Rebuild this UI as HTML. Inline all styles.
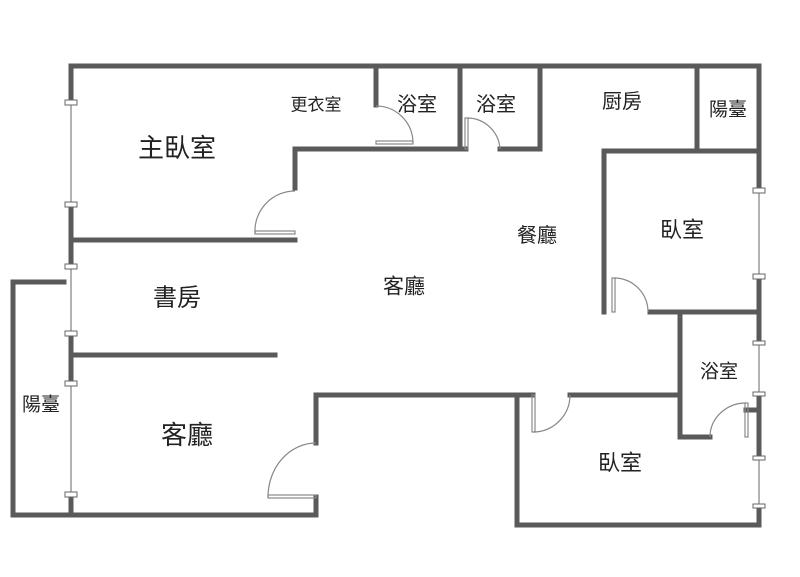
<!DOCTYPE html>
<html><head><meta charset="utf-8"><style>
html,body{margin:0;padding:0;background:#fff;}
svg{display:block;}
text{font-family:"Liberation Sans","Noto Sans CJK TC",sans-serif;fill:#222;text-anchor:middle;dominant-baseline:central;}
</style></head><body>
<svg width="800" height="577" viewBox="0 0 800 577" xmlns="http://www.w3.org/2000/svg">
<g fill="none" stroke="#5a5a5a" stroke-width="5" stroke-linecap="square">
<!-- outer top -->
<polyline points="71,102 71,66 759,66 759,188"/>
<line x1="71" y1="206" x2="71" y2="265"/>
<line x1="71" y1="334" x2="71" y2="383"/>
<line x1="71" y1="496" x2="71" y2="515"/>
<polyline points="64,282 13,282 13,515 316,515 316,497"/>
<!-- master bedroom -->
<polyline points="71,240 295,240"/>
<polyline points="295,188 295,149 462,149"/>
<line x1="413" y1="149" x2="462" y2="149"/>
<line x1="376" y1="66" x2="376" y2="105"/>
<!-- bath2 -->
<polyline points="466,149 460,149 460,66"/>
<polyline points="500,149 540,149 540,66"/>
<!-- kitchen / balcony -->
<line x1="697" y1="66" x2="697" y2="151"/>
<polyline points="604,312 604,151 759,151"/>
<line x1="650" y1="312" x2="759" y2="312"/>
<line x1="759" y1="276" x2="759" y2="343"/>
<line x1="759" y1="394" x2="759" y2="458"/>
<polyline points="759,506 759,525 517,525 517,395 533,395"/>
<line x1="570" y1="395" x2="680" y2="395"/>
<polyline points="680,312 680,437 710,437"/>
<line x1="746" y1="410" x2="757" y2="410"/>
<!-- living lower -->
<polyline points="316,443 316,395 517,395"/>
<line x1="71" y1="355" x2="275" y2="355"/>
</g>
<!-- windows thin lines -->
<g stroke="#888" stroke-width="1.3">
<line x1="71" y1="102" x2="71" y2="206"/>
<line x1="71" y1="265" x2="71" y2="334"/>
<line x1="71" y1="383" x2="71" y2="496"/>
<line x1="759" y1="188" x2="759" y2="276"/>
<line x1="759" y1="343" x2="759" y2="394"/>
<line x1="759" y1="458" x2="759" y2="506"/>
</g>
<g fill="#fff" stroke="#666" stroke-width="1">
<rect x="65" y="100" width="12" height="5"/>
<rect x="65" y="202" width="12" height="5"/>
<rect x="65" y="264" width="12" height="5"/>
<rect x="65" y="331" width="12" height="5"/>
<rect x="65" y="381" width="12" height="5"/>
<rect x="65" y="492" width="12" height="5"/>
<rect x="753" y="188" width="12" height="5"/>
<rect x="753" y="274" width="12" height="5"/>
<rect x="753" y="341" width="12" height="4"/>
<rect x="753" y="392" width="12" height="4"/>
<rect x="753" y="456" width="12" height="4"/>
<rect x="753" y="504" width="12" height="4"/>
</g>
<!-- doors -->
<g fill="none" stroke="#888" stroke-width="1.2">
<path d="M255,233 A40,40 0 0 1 295,191"/><rect x="255" y="231" width="40" height="3"/>
<path d="M376,106 A37,37 0 0 1 413,143"/><rect x="376" y="141" width="37" height="3"/>
<path d="M467,118 A33,33 0 0 1 500,149"/><rect x="465" y="118" width="3" height="31"/>
<path d="M614,278 A34,34 0 0 1 648,312"/><rect x="612" y="278" width="3" height="34"/>
<path d="M533,432 A37,37 0 0 0 570,395"/><rect x="532" y="395" width="3" height="37"/>
<path d="M710,437 A36,34 0 0 1 746,403"/><rect x="745" y="403" width="3" height="34"/>
<path d="M316,443 A48,54 0 0 0 268,497"/><rect x="268" y="495" width="48" height="3"/>
</g>
<text x="177" y="148" font-size="26">主臥室</text>
<text x="316" y="105" font-size="17">更衣室</text>
<text x="417" y="105" font-size="20">浴室</text>
<text x="496" y="105" font-size="20">浴室</text>
<text x="622" y="102" font-size="20">厨房</text>
<text x="728" y="110" font-size="19">陽臺</text>
<text x="537" y="236" font-size="20">餐廳</text>
<text x="682" y="230" font-size="22">臥室</text>
<text x="404" y="287" font-size="21">客廳</text>
<text x="177" y="298" font-size="24">書房</text>
<text x="41" y="405" font-size="19">陽臺</text>
<text x="187" y="435" font-size="26">客廳</text>
<text x="719" y="372" font-size="19">浴室</text>
<text x="620" y="463" font-size="22">臥室</text>
</svg>
</body></html>
